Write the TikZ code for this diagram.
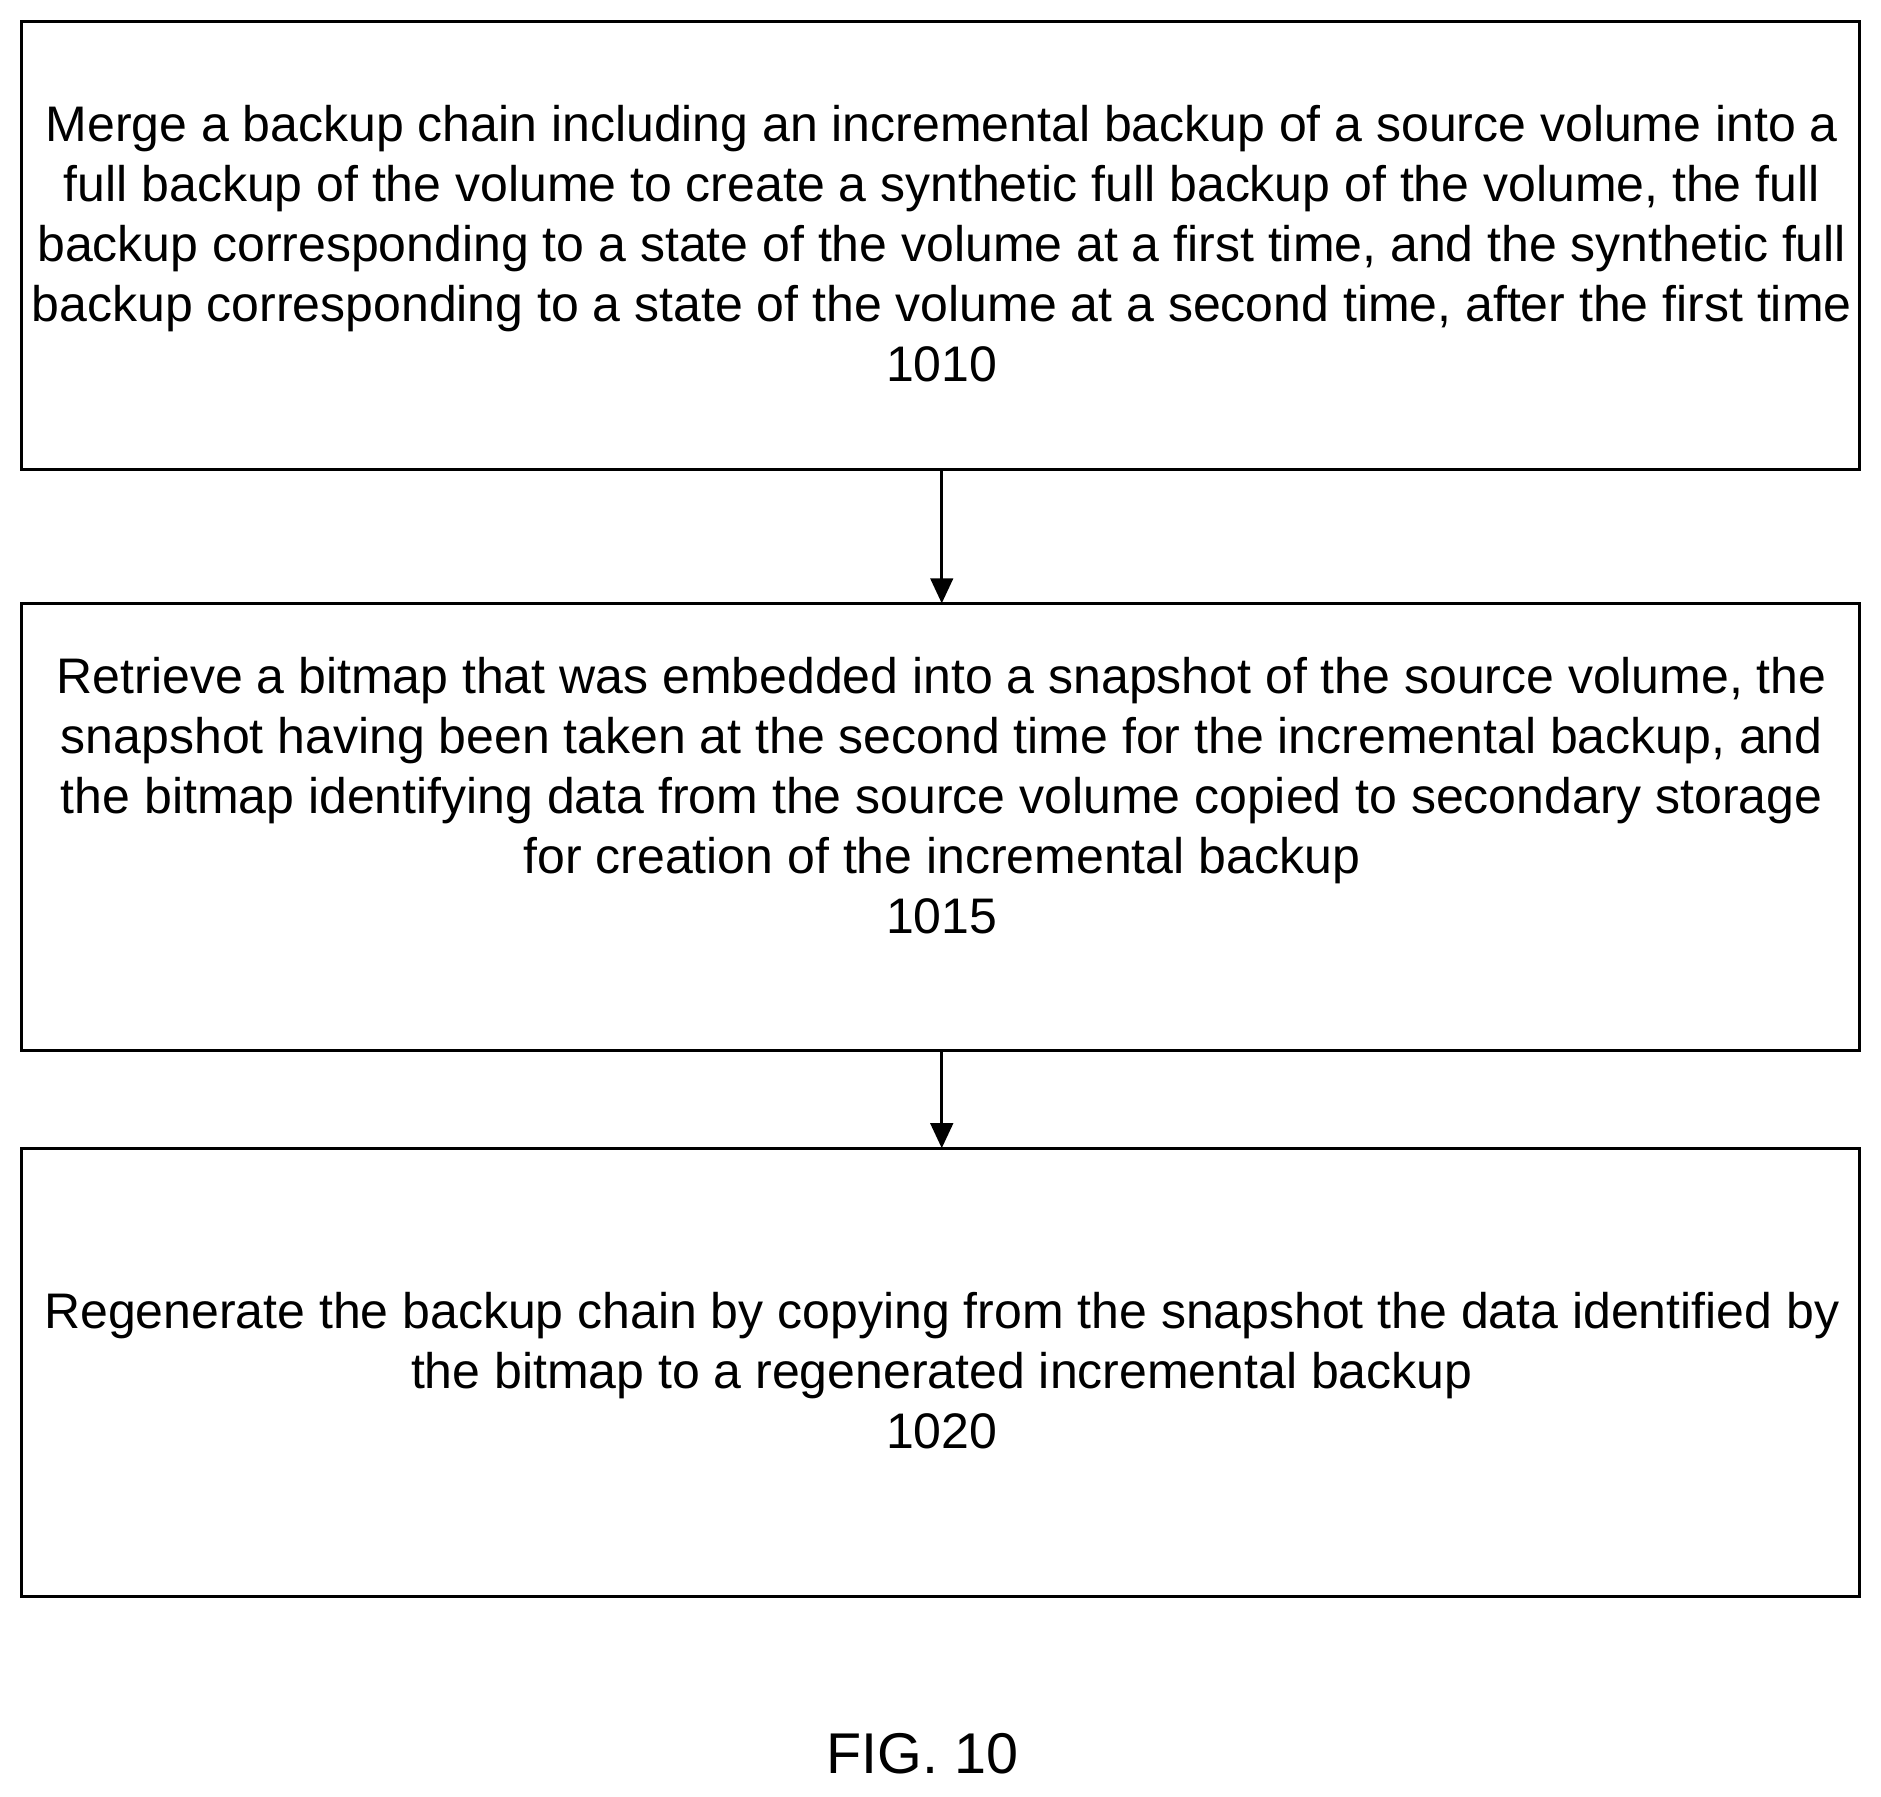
\documentclass[tikz,border=0pt]{standalone}
\usepackage{fontspec}
\setmainfont{Liberation Sans}
\usetikzlibrary{arrows.meta}
\begin{document}
\begin{tikzpicture}[x=1pt,y=-1pt,
  boxs/.style={draw,line width=1.2pt},
  txt/.style={align=center,font=\fontsize{20}{24}\selectfont,inner sep=0pt},
  arr/.style={-{Triangle[length=10pt,width=9pt]},line width=1.2pt}]
\useasboundingbox (0,0) rectangle (752.6,718.6);
\draw[boxs] (8.64,8.64) rectangle (744,187.7);
\draw[boxs] (8.64,241.4) rectangle (744,420.5);
\draw[boxs] (8.64,459.4) rectangle (744,638.9);
\coordinate (b1) at (376.8,187.7);
\coordinate (t2) at (376.8,241.4);
\coordinate (b2) at (376.8,420.5);
\coordinate (t3) at (376.8,459.4);
\node[txt] (n1) at (376.8,97.5) {Merge a backup chain including an incremental backup of a source volume into a\\full backup of the volume to create a synthetic full backup of the volume, the full\\backup corresponding to a state of the volume at a first time, and the synthetic full\\backup corresponding to a state of the volume at a second time, after the first time\\1010};
\node[txt] (n2) at (376.8,318.5) {Retrieve a bitmap that was embedded into a snapshot of the source volume, the\\snapshot having been taken at the second time for the incremental backup, and\\the bitmap identifying data from the source volume copied to secondary storage\\for creation of the incremental backup\\1015};
\node[txt] (n3) at (376.8,548.5) {Regenerate the backup chain by copying from the snapshot the data identified by\\the bitmap to a regenerated incremental backup\\1020};
\draw[arr] (b1) -- (t2);
\draw[arr] (b2) -- (t3);
\node[font=\fontsize{23}{26}\selectfont,inner sep=0pt] (fig) at (369,701.8) {FIG. 10};
\end{tikzpicture}
\end{document}
